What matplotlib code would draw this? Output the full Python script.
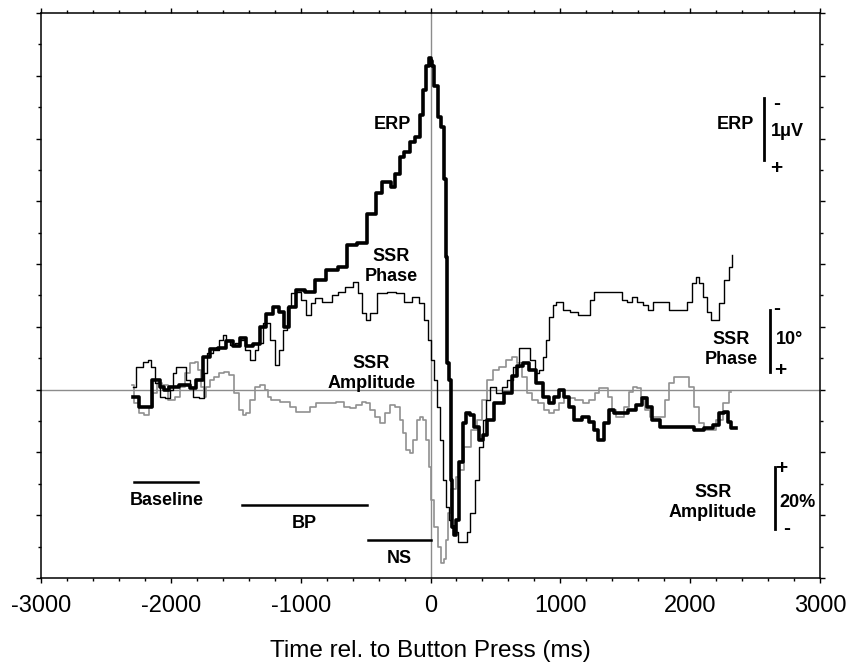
import matplotlib.pyplot as plt

plt.rcParams['font.family'] = ['Liberation Sans', 'DejaVu Sans']
plt.rcParams['axes.unicode_minus'] = False

# ERP averaged over trials (uV, negative up)
erp_t = [-2292, -2199, -2099, -2069, -2030, -1992, -1876, -1830, -1776, -1723,
         -1676, -1600, -1546, -1492, -1446, -1392, -1338, -1292, -1238, -1184,
         -1146, -1107, -1069, -1007, -930, -854, -754, -677, -608, -523,
         -454, -392, -354, -315, -292, -254, -223, -185, -138, -100,
         -69, -46, -23, -8, 8, 15, 46, 69, 92, 108,
         123, 131, 154, 161, 169, 192, 208, 238, 261, 285,
         323, 354, 392, 415, 454, 531, 608, 646, 684, 738,
         784, 838, 892, 930, 969, 1007, 1046, 1084, 1130, 1200,
         1238, 1277, 1300, 1323, 1353, 1392, 1430, 1492, 1553, 1607,
         1646, 1684, 1723, 1815, 1915, 1992, 2069, 2146, 2199, 2246,
         2276, 2299, 2322, 2353]
erp_uv = [0.11, 0.27, -0.16, -0.05, 0, -0.05, -0.08, -0.03, -0.16, -0.52,
          -0.64, -0.67, -0.77, -0.69, -0.83, -0.69, -0.72, -1.0, -1.2, -1.31,
          -1.24, -1.0, -1.32, -1.59, -1.55, -1.75, -1.91, -1.96, -2.31, -2.34,
          -2.79, -3.14, -3.31, -3.3, -3.23, -3.43, -3.71, -3.79, -3.94, -4.03,
          -4.38, -4.78, -5.15, -5.29, -5.23, -5.15, -4.83, -4.35, -4.19, -3.35,
          -2.12, -0.43, -0.16, 1.44, 2.18, 2.31, 2.07, 1.16, 0.53, 0.37,
          0.4, 0.59, 0.8, 0.72, 0.48, 0.21, 0.05, -0.21, -0.37, -0.43,
          -0.32, -0.11, 0.11, 0.21, 0.11, 0, 0.11, 0.27, 0.48, 0.43,
          0.51, 0.64, 0.8, 0.8, 0.53, 0.32, 0.37, 0.37, 0.32, 0.24,
          0.13, 0.27, 0.48, 0.59, 0.59, 0.59, 0.64, 0.61, 0.56, 0.37,
          0.35, 0.51, 0.61, 0.61]

# SSR phase (degrees, negative up)
phase_t = [-2292, -2238, -2184, -2161, -2138, -2099, -2069, -2022, -1992, -1969,
           -1946, -1892, -1869, -1838, -1815, -1753, -1738, -1700, -1646, -1607,
           -1592, -1561, -1523, -1484, -1446, -1407, -1369, -1338, -1315, -1261,
           -1215, -1184, -1146, -1123, -1084, -1061, -1007, -984, -930, -907,
           -877, -800, -723, -700, -623, -569, -546, -508, -484, -446,
           -377, -300, -238, -177, -108, -69, -31, -8, 15, 46,
           54, 85, 108, 131, 154, 169, 200, 223, 277, 285,
           323, 361, 392, 415, 438, 477, 531, 569, 608, 661,
           700, 746, 784, 823, 854, 877, 900, 930, 954, 977,
           1015, 1030, 1123, 1146, 1207, 1246, 1277, 1453, 1492, 1530,
           1569, 1607, 1661, 1684, 1738, 1823, 1853, 1953, 1992, 2030,
           2053, 2084, 2107, 2146, 2169, 2199, 2238, 2284, 2315, 2322]
phase_deg = [-0.5, -3.65, -4.45, -4.8, -3.65, -1.1, 1.1, 1.25, 0, -2.7,
             -3.65, -3.65, -1.6, -0.5, 1.1, 1.25, -2.7, -5.9, -6.35, -7.95,
             -8.75, -7.95, -7.15, -7.5, -7.95, -6.35, -4.8, -6.35, -7.5, -10.65,
             -7.95, -4.0, -6.35, -9.55, -13.2, -15.45, -15.6, -14.35, -11.95, -13.85,
             -14.65, -14.0, -15.15, -15.6, -16.4, -17.2, -15.45, -12.25, -11.15, -12.25,
             -15.45, -15.6, -15.45, -14.0, -14.8, -13.85, -11.15, -7.95, -4.8, -1.6,
             2.7, 7.95, 14.35, 18.65, 20.7, 21.8, 22.75, 24.2, 24.2, 22.75,
             19.6, 14.35, 9.1, 4.8, 1.6, -0.5, 0.5, -0.5, -1.6, -3.65,
             -6.7, -6.7, -4.8, -2.7, -3.2, -5.25, -7.95, -11.6, -13.55, -14.0,
             -14.0, -12.75, -12.4, -11.95, -11.95, -14.35, -15.6, -15.6, -14.35, -14.0,
             -14.8, -14.0, -13.55, -12.75, -14.0, -14.0, -12.75, -12.75, -14.0, -17.05,
             -18.0, -17.05, -14.8, -12.4, -11.15, -11.15, -13.85, -17.5, -19.6, -21.5]

# SSR amplitude (% change from baseline, positive up)
amp_t = [-2299, -2261, -2222, -2184, -2146, -2122, -2099, -2045, -1992, -1946,
         -1907, -1869, -1830, -1800, -1776, -1753, -1738, -1715, -1684, -1646,
         -1607, -1569, -1530, -1492, -1453, -1430, -1407, -1369, -1330, -1292,
         -1261, -1238, -1215, -1107, -1061, -1007, -946, -907, -854, -754,
         -700, -638, -600, -546, -508, -484, -446, -408, -369, -331,
         -292, -254, -223, -200, -177, -146, -123, -92, -69, -46,
         -23, -8, 15, 46, 69, 92, 108, 123, 146, 177,
         208, 238, 285, 338, 377, 415, 454, 508, 554, 608,
         646, 684, 723, 761, 800, 854, 892, 930, 969, 1007,
         1046, 1084, 1146, 1200, 1246, 1284, 1315, 1353, 1376, 1415,
         1438, 1476, 1507, 1546, 1569, 1607, 1630, 1669, 1707, 1784,
         1823, 1853, 1892, 1976, 2007, 2046, 2084, 2122, 2169, 2222,
         2276, 2315]
amp_pct = [1.6, -4.1, -7.3, -8, -5.4, -1, 2.2, 1.6, -3.2, -2.2,
           1, 5.4, 8.6, 8.9, 6.4, 1, -2.2, 1, 3.2, 4.1,
           5.4, 5.7, 4.8, -1, -6.4, -8, -7.3, -3.2, 1, 1.6,
           0, -2.2, -3.2, -3.8, -5.4, -7, -7, -5.4, -4.1, -4.1,
           -3.8, -5.4, -5.7, -4.8, -3.8, -4.1, -6.4, -8.6, -10.5, -7.3,
           -4.8, -5.4, -9.6, -13.7, -19.1, -20.1, -15.9, -9.6, -8.6, -9.6,
           -15.9, -24.5, -35, -43.6, -50, -55.1, -54.1, -47.8, -39.2, -31.8,
           -27.7, -25.5, -18.2, -12.7, -9.6, -3.2, 3.2, 6.4, 7.3, 9.6,
           10.5, 8.6, 4.1, -1, -3.2, -4.1, -6.4, -7.3, -6.4, -4.1,
           -2.5, -2.5, -3.2, -4.1, -3.2, -1, 0.6, 0.6, -2.2, -6.4,
           -8.6, -8.6, -5.4, -0.6, 1, 0.6, -2.2, -6.4, -8.6, -8.6,
           -3.2, 2.2, 4.1, 4.1, 1, -5.4, -10.5, -12.7, -12.7, -9.6,
           -4.1, -0.6]

# analysis windows (ms)
windows = {'Baseline': (-2280, -1790), 'BP': (-1450, -490), 'NS': (-480, 0)}

# one vertical division = 0.5 uV = 5 deg = 10 %
UV_DIV, DEG_DIV, PCT_DIV = 0.5, 5.0, 10.0
erp_y = [-v / UV_DIV for v in erp_uv]
phase_y = [-v / DEG_DIV for v in phase_deg]
amp_y = [v / PCT_DIV for v in amp_pct]

fig = plt.figure(figsize=(8.51, 6.64), dpi=100)
ax = fig.add_axes([0.0482, 0.1295, 0.9154, 0.851])

ax.axhline(0, color='#8c8c8c', lw=1, zorder=1)
ax.axvline(0, color='#8c8c8c', lw=1, zorder=1)

# traces are sampled, so draw them as staircases
ax.plot(amp_t, amp_y, color='#909090', lw=1.2, drawstyle='steps-mid', zorder=2)
ax.plot(phase_t, phase_y, color='black', lw=1.0, drawstyle='steps-mid', zorder=3)
ax.plot(erp_t, erp_y, color='black', lw=2.6, drawstyle='steps-mid', zorder=4)

FS, SIGN = 13, 15
bold = dict(fontsize=FS, fontweight='bold', ha='center', va='center')
ax.text(-292, 8.44, 'ERP', **bold)
ax.text(-300, 3.92, 'SSR\nPhase', **bold)
ax.text(-454, 0.51, 'SSR\nAmplitude', **bold)

# time windows under the traces
win_y = {'Baseline': -2.93, 'BP': -3.66, 'NS': -4.78}
for name, (t0, t1) in windows.items():
    y = win_y[name]
    ax.plot([t0, t1], [y, y], color='black', lw=1.8)
    ax.text((t0 + t1) / 2, y - 0.6, name, **bold)

# calibration bars
sign = dict(fontsize=SIGN, fontweight='bold', ha='center', va='center')
ax.plot([2570, 2570], [7.3, 9.3], color='black', lw=2)
ax.text(2490, 8.44, 'ERP', fontsize=FS, fontweight='bold', ha='right', va='center')
ax.text(2668, 9.1, '-', **sign)
ax.text(2622, 8.22, '1\u03bcV', fontsize=FS, fontweight='bold', ha='left', va='center')
ax.text(2661, 7.05, '+', **sign)

ax.plot([2615, 2615], [0.55, 2.55], color='black', lw=2)
ax.text(2315, 1.27, 'SSR\nPhase', **bold)
ax.text(2668, 2.58, '-', **sign)
ax.text(2661, 1.59, '10\u00b0', fontsize=FS, fontweight='bold', ha='left', va='center')
ax.text(2691, 0.62, '+', **sign)

ax.plot([2653, 2653], [-4.45, -2.45], color='black', lw=2)
ax.text(2176, -3.6, 'SSR\nAmplitude', **bold)
ax.text(2699, -2.5, '+', **sign)
ax.text(2684, -3.6, '20%', fontsize=FS, fontweight='bold', ha='left', va='center')
ax.text(2745, -4.43, '-', **sign)

ax.set_xlim(-3000, 3000)
ax.set_ylim(-6, 12)
ax.set_xticks(range(-3000, 3001, 1000))
ax.set_xticks(range(-3000, 3001, 200), minor=True)
ax.set_yticks(range(-6, 13, 2))
ax.set_yticks(range(-6, 13, 1), minor=True)
ax.tick_params(which='both', direction='out', top=True, right=True, width=1, color='black')
ax.tick_params(which='major', length=3.5)
ax.tick_params(which='minor', length=2.2)
ax.tick_params(axis='y', labelleft=False)
ax.tick_params(axis='x', labelsize=17, pad=9)
for s in ax.spines.values():
    s.set_linewidth(1.1)

ax.set_xlabel('Time rel. to Button Press (ms)', fontsize=17.5, labelpad=16)

fig.savefig('out.png', dpi=100)
